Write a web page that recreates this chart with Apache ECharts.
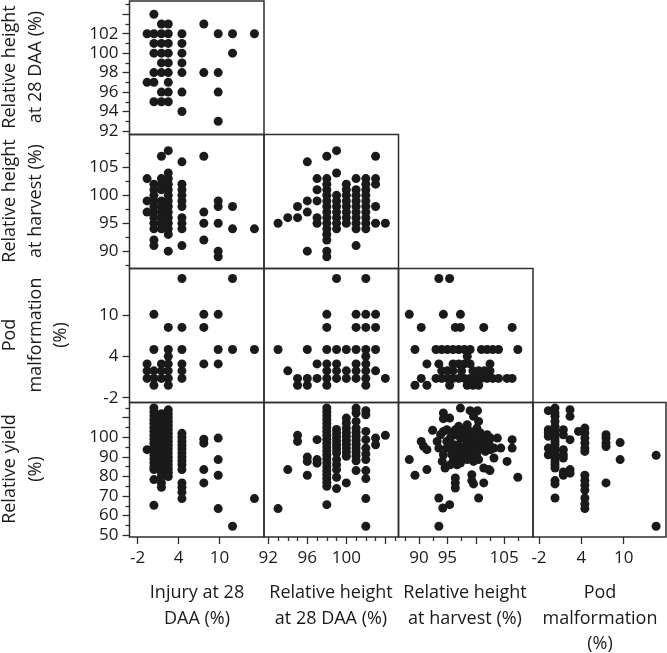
<!DOCTYPE html>
<html><head><meta charset="utf-8">
<script src="https://cdn.jsdelivr.net/npm/echarts@6/dist/echarts.min.js"></script>
<style>html,body{margin:0;padding:0;background:#fff}#c{width:667px;height:653px}</style>
</head><body><div id="c"></div>
<script>
// ---------- tick values ----------
const injuryLabels = [-2, 4, 10];
const rh28XLabels = [92, 96, 100];
const rh28XMajor = [92, 96, 100, 104];
const rh28Minor = [93, 94, 95, 97, 98, 99, 101, 102, 103, 105];
const rh28YLabels = [92, 94, 96, 98, 100, 102];
const rh28YMajor = [92, 94, 96, 98, 100, 102, 104];
const rh28YMinor = [93, 95, 97, 99, 101, 103, 105];
const rhhXLabels = [90, 95, 105];
const rhhYLabels = [90, 95, 100, 105];
const rhhMajor = [90, 95, 100, 105];
const rhhMinor = [87.5, 92.5, 97.5, 102.5, 107.5];
const podLabels = [-2, 4, 10];
const yieldLabels = [50, 60, 70, 80, 90, 100];
const yieldMajor = [50, 60, 70, 80, 90, 100, 110];
const yieldMinor = [55, 65, 75, 85, 95, 105, 115];

// ---------- axis titles ----------
const xTitles = [['Injury at 28', 'DAA (%)'], ['Relative height', 'at 28 DAA (%)'], ['Relative height', 'at harvest (%)'], ['Pod', 'malformation', '(%)']];
const yTitles = [['Relative height', 'at 28 DAA (%)'], ['Relative height', 'at harvest (%)'], ['Pod', 'malformation', '(%)'], ['Relative yield', '(%)']];

// ---------- data: [x, y] ----------
const rh28VsInjury = [
[0.4,104],[1.5,103],[2.5,103],[7.7,103],
[-0.6,102],[0.4,102],[1.5,102],[2.5,102],[4.5,102],[9.8,102],[11.9,102],[15.1,102],
[0.4,101],[1.5,101],[2.5,101],[4.5,101],
[0.4,100],[1.5,100],[2.5,100],[4.5,100],[11.9,100],
[1.5,99],[2.5,99],[4.5,99],
[0.4,98],[1.5,98],[2.5,98],[4.5,98],[7.7,98],[9.8,98],
[-0.6,97],[0.4,97],[2.5,97],
[1.5,96],[2.5,96],[4.5,96],[9.8,96],
[0.4,95],[1.5,95],[2.5,95],
[4.5,94],[9.8,93]];

const rhhVsInjury = [
[-0.6,103],[-0.6,99],[-0.6,97],
[0.4,102],[0.4,101],[0.4,100],[0.4,99],[0.4,98],[0.4,97],[0.4,96],[0.4,95],[0.4,94],[0.4,92],[0.4,91],
[1.5,107],[1.5,103],[1.5,102],[1.5,101],[1.5,99],[1.5,98],[1.5,97],[1.5,96],[1.5,95],[1.5,94],
[2.5,108],[2.5,104],[2.5,103],[2.5,102],[2.5,101],[2.5,100],[2.5,99],[2.5,98],[2.5,97],[2.5,96],[2.5,95],[2.5,94],[2.5,93],[2.5,90],
[4.5,106],[4.5,102],[4.5,101],[4.5,100],[4.5,99],[4.5,98],[4.5,96],[4.5,95],[4.5,94],[4.5,91],
[7.7,107],[7.7,97],[7.7,95],[7.7,92],
[9.8,99],[9.8,98],[9.8,95],[9.8,90],[9.8,89],
[11.9,98],[11.9,94],[15.1,94]];

const rhhVsRh28 = [
[93,95],[94,96],[95,98],[95,96],
[96,106],[96,99],[96,97],[96,90],
[97,103],[97,101],[97,99],[97,96],[97,95],
[98,107],[98,103],[98,102],[98,101],[98,100],[98,99],[98,98],[98,97],[98,96],[98,95],[98,94],[98,93],[98,92],[98,90],[98,89],
[99,108],[99,104],[99,100],[99,99],[99,98],[99,97],[99,96],[99,95],[99,94],
[100,102],[100,101],[100,100],[100,99],[100,98],[100,97],[100,96],[100,95],
[101,103],[101,101],[101,100],[101,99],[101,98],[101,97],[101,96],[101,95],[101,94],[101,91],
[102,103],[102,102],[102,101],[102,100],[102,99],[102,98],[102,97],[102,96],[102,95],[102,94],
[103,107],[103,103],[103,102],[103,98],[103,95],[104,95]];

const podVsInjury = [
[-0.6,2.9],[-0.6,1.9],[-0.6,0.8],
[0.4,10.1],[0.4,5.0],[0.4,1.9],[0.4,0.8],[0.4,-0.2],
[1.5,2.9],[1.5,1.9],[1.5,0.8],
[2.5,8.2],[2.5,5.0],[2.5,4.0],[2.5,2.9],[2.5,1.9],[2.5,0.8],[2.5,-0.2],
[4.5,15.3],[4.5,8.2],[4.5,5.0],[4.5,2.9],[4.5,1.9],[4.5,0.8],
[7.7,10.1],[7.7,8.2],[7.7,2.9],
[9.8,10.1],[9.8,5.0],[9.8,2.9],
[11.9,15.3],[11.9,5.0],[15.1,5.0]];

const podVsRh28 = [
[93,5.0],[94,1.9],[95,0.8],[95,-0.2],
[96,5.0],[96,0.8],[96,-0.2],[97,2.9],[97,0.8],
[98,10.1],[98,8.2],[98,5.0],[98,2.9],[98,1.9],[98,0.8],[98,-0.2],
[99,15.3],[99,5.0],[99,2.9],[99,1.9],[99,0.8],
[100,5.0],[100,1.9],[100,0.8],
[101,10.1],[101,8.2],[101,5.0],[101,2.9],[101,1.9],[101,0.8],
[102,15.3],[102,10.1],[102,8.2],[102,5.0],[102,4.0],[102,2.9],[102,1.9],[102,0.8],[102,-0.2],
[103,10.1],[103,8.2],[103,5.0],[103,1.9],[104,0.8]];

const podVsRhh = [
[93.5,15.3],[95.4,15.3],
[88.3,10.1],[94.3,10.1],[97.3,10.1],
[90.4,8.2],[96.4,8.2],[97.3,8.2],[101.4,8.2],[106.4,8.2],
[89.3,5.0],[93,5.0],[94,5.0],[95,5.0],[96,5.0],[97,5.0],[98,5.0],[99,5.0],[101,5.0],[102,5.0],[103,5.0],[104,5.0],[107.4,5.0],
[98.5,4.0],
[91.4,2.9],[93.5,2.9],[96,2.9],[97,2.9],[98,2.9],[99,2.9],[102.5,2.9],
[94,1.9],[95,1.9],[96,1.9],[97.5,1.9],[99.5,1.9],[100.5,1.9],[101.5,1.9],[102.5,1.9],
[90.4,0.8],[93,0.8],[94,0.8],[95,0.8],[96,0.8],[97,0.8],[98,0.8],[99,0.8],[100,0.8],[101,0.8],[102,0.8],[103,0.8],[104,0.8],[105.5,0.8],[106.4,0.8],
[89.3,-0.2],[91.4,-0.2],[95.4,-0.2],[98.5,-0.2],[99.5,-0.2],[100.5,-0.2]];

const yieldVsInjury = [
[-0.6,93.7],
[0.4,115],[0.4,113],[0.4,111],[0.4,109],[0.4,107],[0.4,105],[0.4,103],[0.4,101],[0.4,99],[0.4,97],[0.4,95],[0.4,93],[0.4,91],[0.4,89],[0.4,87],[0.4,85],[0.4,83.5],[0.4,78.4],[0.4,65.3],
[1.5,112],[1.5,110],[1.5,108],[1.5,106],[1.5,104],[1.5,102],[1.5,100],[1.5,98],[1.5,96],[1.5,94],[1.5,92],[1.5,90],[1.5,88],[1.5,86],[1.5,84],[1.5,82],[1.5,80],[1.5,76.7],[1.5,74.5],
[2.5,114],[2.5,112],[2.5,110],[2.5,108],[2.5,106],[2.5,104],[2.5,102],[2.5,100],[2.5,98],[2.5,96],[2.5,94],[2.5,92],[2.5,90],[2.5,88],[2.5,86],[2.5,84],[2.5,82],[2.5,80],
[4.5,102],[4.5,100],[4.5,98],[4.5,96],[4.5,94],[4.5,92],[4.5,90],[4.5,88],[4.5,86],[4.5,83.5],[4.5,76.7],[4.5,74.5],[4.5,72],[4.5,68.7],
[7.7,99],[7.7,97],[7.7,83.5],[7.7,76.7],
[9.8,99.6],[9.8,88.6],[9.8,80.6],[9.8,63.6],
[11.9,54.6],[15.1,68.7]];

const yieldVsRh28 = [
[93,63.6],[94,83.5],[95,101],[95,97.9],
[96,89.9],[96,87.7],[96,80.6],
[97,98.8],[97,88.6],[97,86.8],
[98,115],[98,113],[98,111],[98,109],[98,107],[98,105],[98,103],[98,101],[98,99],[98,97],[98,95],[98,93],[98,91],[98,89],[98,87],[98,85],[98,83],[98,81],[98,79],[98,77],[98,75],[98,65.6],
[99,104],[99,102],[99,100],[99,98],[99,96],[99,94],[99,92],[99,88.6],[99,86],[99,83.5],[99,79.6],[99,73.8],
[100,109.8],[100,107.3],[100,104.7],[100,102.5],[100,100.5],[100,98.5],[100,96.5],[100,94.5],[100,92.5],[100,90.3],[100,76.7],
[101,114.9],[101,112.4],[101,108.1],[101,104.7],[101,102.5],[101,100.5],[101,98.5],[101,96.5],[101,94.5],[101,92.5],[101,90.5],[101,88],[101,83],
[102,113.6],[102,111.5],[102,103],[102,98.8],[102,94.5],[102,91.5],[102,88.6],[102,83],[102,78.9],[102,68.7],[102,54.6],
[103,99.6],[103,96.2],[104,101]];

const yieldVsRhh = [
[88.3,88.6],[89.3,80.6],[90.4,97.9],[90.8,95.4],[91.4,93.7],[92.4,103.6],[91.4,83.5],
[93.5,69.0],[94.2,63.9],[95.4,65.6],[93.5,54.6],
[94.3,112.4],[94.3,109.5],[95.4,109.8],[97.3,114.9],[99.0,113.6],[100.3,113.6],[100.5,108.1],[99.6,110.7],
[93.2,97.9],[93.5,94.5],[93.8,101.3],[94.3,103.0],[94.9,103.9],[95.8,101.3],[96.4,103.9],[97.0,105.6],[97.3,99.6],
[98.2,103.9],[98.5,106.4],[99.0,103.0],[99.6,100.5],[100.2,104.7],[100.8,102.2],[101.4,99.6],[102.0,101.3],[102.6,99.6],
[103.2,94.5],[102.6,93.7],[101.7,92.8],[100.8,94.5],[99.6,96.2],[98.7,94.5],[97.9,92.8],[97.3,91.1],[96.7,89.4],[95.8,91.1],
[94.9,94.5],[94.3,91.1],[94.1,87.7],[94.6,84.3],[95.5,86.0],[96.7,86.0],[97.6,88.6],[98.5,90.3],[99.6,90.3],[100.5,88.6],
[101.4,84.3],[102.3,83.5],[103.2,89.4],[104.4,94.5],[103.8,99.6],[94.9,97.9],[96.1,96.2],[98.5,97.9],[100.2,97.9],[97.0,96.2],
[95.5,99.6],[96.4,101.3],[97.6,102.2],[98.2,100.5],[99.0,98.8],[99.3,101.3],[100.8,99.6],[101.4,97.1],[100.2,95.4],
[99.0,92.8],[98.2,95.4],[97.0,93.7],[96.1,93.7],[95.5,95.4],[96.1,88.6],[97.3,86.9],[100.2,92.0],[101.7,95.4],[102.3,97.1],
[98.5,88.6],[99.6,87.7],
[106.4,98.8],[106.4,94.5],[105.5,87.7],[107.4,79.6],
[96.4,79.2],[96.4,76.7],[96.4,74.1],[99.3,80.9],[99.3,77.9],[99.6,76.2],[100.5,69.0],[101.4,76.7],[102.5,83.0]];

const yieldVsPod = [
[-0.68,113.6],[-0.68,103.9],[-0.68,102.2],[-0.68,100.5],[-0.68,94.5],[-0.68,91.1],
[0.27,114.9],[0.27,112.4],[0.27,110.7],[0.27,108.1],[0.27,105.6],[0.27,103.0],[0.27,101.3],[0.27,99.6],[0.27,97.9],[0.27,96.2],
[0.27,94.5],[0.27,92.8],[0.27,91.1],[0.27,89.4],[0.27,87.7],[0.27,86.0],[0.27,84.3],[0.27,77.9],[0.27,76.2],[0.27,69.0],
[1.45,103.9],[1.45,101.3],[1.45,93.7],[1.45,91.1],[1.45,89.4],[1.45,82.3],[1.45,80.6],
[2.4,114.1],[2.4,110.7],[2.4,98.8],[2.4,83.5],[2.4,81.7],
[3.6,103.0],
[4.5,104.7],[4.5,102.2],[4.5,99.6],[4.5,97.1],[4.5,94.5],[4.5,92.8],[4.5,80.6],[4.5,78.0],[4.5,75.5],[4.5,73.0],[4.5,69.0],[4.5,66.0],[4.5,63.6],
[7.5,101.3],[7.5,99.6],[7.5,97.1],[7.5,95.3],[7.5,76.7],
[9.5,97.3],[9.5,88.6],
[14.6,90.8],[14.6,54.6]];

// ---------- layout ----------
const colLeft = [129.5, 264, 398.5, 533];
const colW = [134.5, 134.5, 134.5, 133];
const rowTop = [1, 134.5, 268.5, 402.5];
const rowH = [133.5, 134, 134, 134.5];
const xSpecs = [
  {min: -3.17, max: 16.5, labels: injuryLabels, major: injuryLabels, minor: []},
  {min: 91.56, max: 105.35, labels: rh28XLabels, major: rh28XMajor, minor: rh28Minor},
  {min: 86.4, max: 110.07, labels: rhhXLabels, major: rhhMajor, minor: rhhMinor},
  {min: -2.85, max: 16.0, labels: podLabels, major: podLabels, minor: []}
];
const ySpecs = [
  {min: 91.64, max: 105.36, labels: rh28YLabels, major: rh28YMajor, minor: rh28YMinor},
  {min: 86.9, max: 110.9, labels: rhhYLabels, major: rhhMajor, minor: rhhMinor},
  {min: -2.7, max: 16.75, labels: podLabels, major: podLabels, minor: []},
  {min: 49.1, max: 117.76, labels: yieldLabels, major: yieldMajor, minor: yieldMinor}
];
const panels = [
  {row:0, col:0, data: rh28VsInjury},
  {row:1, col:0, data: rhhVsInjury}, {row:1, col:1, data: rhhVsRh28},
  {row:2, col:0, data: podVsInjury}, {row:2, col:1, data: podVsRh28}, {row:2, col:2, data: podVsRhh},
  {row:3, col:0, data: yieldVsInjury}, {row:3, col:1, data: yieldVsRh28}, {row:3, col:2, data: yieldVsRhh}, {row:3, col:3, data: yieldVsPod}
];

const FONT = 'Open Sans';
const INK = '#1a1a1a';
const LINE = '#2e2e2e';
const grids = [], xAxes = [], yAxes = [], series = [];
const tickStyle = {color: LINE, width: 1.3};

function makeAxis(spec, gi, pos, showTicks, ticks, labels, len, margin) {
  return {type: 'value', gridIndex: gi, min: spec.min, max: spec.max, position: pos,
    axisLine: {show: false, onZero: false}, splitLine: {show: false},
    axisTick: {show: showTicks, inside: false, length: len, lineStyle: tickStyle, customValues: ticks},
    axisLabel: labels ? {show: true, customValues: labels, margin: margin, fontSize: 17, fontFamily: FONT, color: INK} : {show: false}};
}

panels.forEach((p) => {
  const xs = xSpecs[p.col], ys = ySpecs[p.row];
  const bottom = p.row === 3, left = p.col === 0;
  const rect = {left: colLeft[p.col], top: rowTop[p.row], width: colW[p.col], height: rowH[p.row]};
  const gi = grids.length;
  grids.push(Object.assign({show: true, borderColor: LINE, borderWidth: 1.5, backgroundColor: 'transparent'}, rect));
  const xi = xAxes.length;
  xAxes.push(makeAxis(xs, gi, 'bottom', bottom, xs.major, bottom ? xs.labels : null, 7, 13));
  const yi = yAxes.length;
  yAxes.push(makeAxis(ys, gi, 'left', left, ys.major, left ? ys.labels : null, 7, 11));
  series.push({type: 'scatter', xAxisIndex: xi, yAxisIndex: yi, data: p.data, symbol: 'circle', symbolSize: 9,
    itemStyle: {color: '#1a1a1a', opacity: 1}, silent: true});
  // overlay grid for minor ticks
  const needX = bottom && xs.minor.length, needY = left && ys.minor.length;
  if (needX || needY) {
    const g2 = grids.length;
    grids.push(Object.assign({show: false}, rect));
    xAxes.push(makeAxis(xs, g2, 'bottom', !!needX, xs.minor, null, 4, 0));
    yAxes.push(makeAxis(ys, g2, 'left', !!needY, ys.minor, null, 4, 0));
  }
});

const colCenter = [197, 331, 465, 600];
const xTitleY = [593, 619, 644];
const rowCenter = [67, 201, 335, 469];
const yTitleX = [10, 36, 61];
const graphics = [];
xTitles.forEach((lines, c) => lines.forEach((t, k) => graphics.push({type: 'text', x: colCenter[c], y: xTitleY[k],
  style: {text: t, fill: INK, fontSize: 18, fontFamily: FONT, align: 'center', verticalAlign: 'middle'}})));
yTitles.forEach((lines, r) => lines.forEach((t, k) => graphics.push({type: 'text', x: yTitleX[k], y: rowCenter[r], rotation: Math.PI / 2,
  style: {text: t, fill: INK, fontSize: 18, fontFamily: FONT, align: 'center', verticalAlign: 'middle'}})));

const chart = echarts.init(document.getElementById('c'), null, {renderer: 'canvas'});
chart.setOption({animation: false, backgroundColor: '#fff', grid: grids, xAxis: xAxes, yAxis: yAxes, series: series, graphic: graphics});
</script></body></html>
